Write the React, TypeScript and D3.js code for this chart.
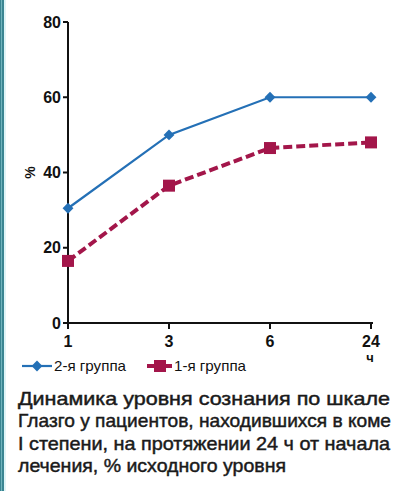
import React from "react";
import * as d3 from "d3";

// Hours since start of treatment
const hours = ["1", "3", "6", "24"];
// % of baseline level
const group2 = [30.5, 50, 60, 60];
const group1 = [16.5, 36.5, 46.5, 48];
const yTicks = [0, 20, 40, 60, 80];
const captionLines = [
  "Динамика уровня сознания по шкале",
  "Глазго у пациентов, находившихся в коме",
  "I степени, на протяжении 24 ч от начала",
  "лечения, % исходного уровня",
];
const captionWidths = [372, 373, 372, 268];

const BLUE = "#2470b6";
const RED = "#a3164a";

export default function App() {
  const W = 405;
  const H = 491;
  const x = d3.scalePoint<string>().domain(hours).range([68, 371]);
  const y = d3.scaleLinear().domain([0, 80]).range([323, 22]);

  const line = d3
    .line<number>()
    .x((_, i) => x(hours[i]) as number)
    .y((d) => y(d));

  const diamond = d3.symbol().type(d3.symbolDiamond2).size(75)();
  const tickFont = "'Liberation Sans', Arial, sans-serif";

  return (
    <svg
      width={W}
      height={H}
      style={{ position: "absolute", left: 0, top: 0, background: "#fff" }}
      fontFamily={tickFont}
    >
      <rect x={0} y={0} width={4} height={H} fill="#3a8592" />
      <rect x={1} y={0} width={0.8} height={H} fill="#7fc0c9" />
      <rect x={4} y={0} width={2} height={H} fill="#dff4f7" />

      {/* axes */}
      <line x1={68} x2={68} y1={y(80)} y2={y(0)} stroke="#111" strokeWidth={2} />
      <line x1={68} x2={373} y1={y(0)} y2={y(0)} stroke="#111" strokeWidth={2} />
      {yTicks.map((t) => (
        <g key={t}>
          <line x1={63} x2={68} y1={y(t)} y2={y(t)} stroke="#111" strokeWidth={2} />
          <text
            x={61}
            y={y(t) + 5.5}
            textAnchor="end"
            fontSize={16}
            fontWeight="bold"
            fill="#111"
          >
            {t}
          </text>
        </g>
      ))}
      {hours.map((h) => (
        <g key={h}>
          <line
            x1={x(h)}
            x2={x(h)}
            y1={y(0)}
            y2={y(0) + 6}
            stroke="#111"
            strokeWidth={2}
          />
          <text
            x={x(h)}
            y={347}
            textAnchor="middle"
            fontSize={16}
            fontWeight="bold"
            fill="#111"
          >
            {h}
          </text>
        </g>
      ))}
      <text
        transform={`translate(35,${y(40)}) rotate(-90)`}
        textAnchor="middle"
        fontSize={14}
        fontWeight="bold"
        fill="#111"
      >
        %
      </text>
      <text x={370} y={362} textAnchor="middle" fontSize={13} fontWeight="bold" fill="#111">
        ч
      </text>

      {/* series */}
      <path d={line(group1) || ""} fill="none" stroke={RED} strokeWidth={4} strokeDasharray="9,4" />
      {group1.map((v, i) => (
        <rect
          key={i}
          x={(x(hours[i]) as number) - 6}
          y={y(v) - 6}
          width={12}
          height={12}
          fill={RED}
        />
      ))}
      <path d={line(group2) || ""} fill="none" stroke={BLUE} strokeWidth={2.2} />
      {group2.map((v, i) => (
        <path
          key={i}
          d={diamond || ""}
          transform={`translate(${x(hours[i])},${y(v)})`}
          fill={BLUE}
        />
      ))}

      {/* legend */}
      <line x1={22} x2={52} y1={366} y2={366} stroke={BLUE} strokeWidth={2.2} />
      <path d={diamond || ""} transform="translate(37,366)" fill={BLUE} />
      <text x={54} y={371} fontSize={15} fill="#111" textLength={72} lengthAdjust="spacingAndGlyphs">
        2-я группа
      </text>
      <line x1={147} x2={172} y1={366} y2={366} stroke={RED} strokeWidth={4} />
      <rect x={154} y={360} width={12} height={12} fill={RED} />
      <text x={174} y={371} fontSize={15} fill="#111" textLength={72} lengthAdjust="spacingAndGlyphs">
        1-я группа
      </text>

      {/* caption */}
      {captionLines.map((l, i) => (
        <text
          key={i}
          x={18}
          y={404.5 + i * 22.6}
          fontSize={18.5}
          fill="#1a1a1a"
          stroke="#1a1a1a"
          strokeWidth={0.45}
          fontFamily="'Liberation Sans', Arial, sans-serif"
          textLength={captionWidths[i]}
          lengthAdjust="spacingAndGlyphs"
        >
          {l}
        </text>
      ))}
    </svg>
  );
}
